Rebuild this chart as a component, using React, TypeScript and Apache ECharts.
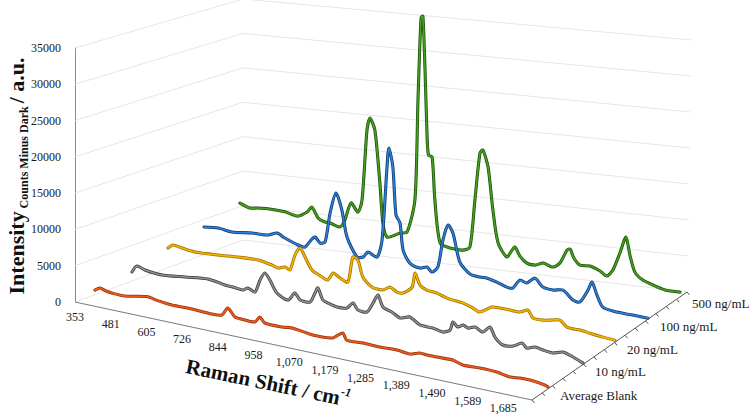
import React, { useEffect, useRef } from "react";
import * as echarts from "echarts";

// ---------- data ----------
const RAMAN_TICKS = [353, 481, 605, 726, 844, 958, 1070, 1179, 1285, 1389, 1490, 1589, 1685];
const RAMAN_MAX = 1762;
const INTENSITY_TICKS = [0, 5000, 10000, 15000, 20000, 25000, 30000, 35000];
const SERIES_NAMES = ["Average Blank", "10 ng/mL", "20 ng/mL", "100 ng/mL", "500 ng/mL"];

const averageBlank = [[353,630],[371,1050],[393,810],[414,700],[461,660],[539,1230],[574,980],[626,770],[694,800],[762,680],[795,830],[815,1970],[839,920],[871,800],[903,810],[919,1640],[935,960],[990,900],[1022,1050],[1087,680],[1148,840],[1179,1820],[1191,960],[1240,1020],[1290,950],[1341,1020],[1378,840],[1407,1270],[1428,1190],[1456,1200],[1501,1240],[1529,840],[1577,920],[1623,850],[1659,540],[1686,690],[1713,690],[1753,440],[1762,250]];

const ng10 = [[353,1250],[371,2200],[400,1860],[462,1590],[544,1910],[624,2230],[682,1830],[710,1760],[744,1590],[760,2000],[784,1620],[801,3420],[817,4520],[834,3670],[857,2050],[893,1360],[915,2510],[932,1680],[964,1650],[980,3020],[989,3800],[1005,2260],[1021,1970],[1050,1650],[1081,1770],[1100,2620],[1115,1770],[1143,1730],[1162,3130],[1177,4360],[1192,2830],[1219,2370],[1243,1750],[1273,2130],[1303,1290],[1341,1200],[1371,900],[1392,1360],[1400,2550],[1414,1980],[1429,2380],[1443,2090],[1463,2410],[1486,1930],[1506,2800],[1520,1540],[1542,640],[1571,760],[1596,1400],[1609,830],[1631,1180],[1653,970],[1680,820],[1707,1200],[1735,780],[1762,190]];

const ng20 = [[353,2740],[371,3270],[404,3060],[452,2810],[535,2920],[606,3100],[675,3160],[723,2780],[744,2500],[767,2810],[784,2500],[801,4700],[818,5800],[835,4660],[858,3020],[891,2270],[910,1990],[927,3090],[950,2550],[975,2180],[991,5770],[1007,5470],[1023,3230],[1052,2040],[1087,1880],[1109,2450],[1131,1920],[1150,1920],[1178,2960],[1187,4980],[1202,3420],[1223,2890],[1254,2710],[1284,2240],[1302,2100],[1332,1920],[1361,1460],[1382,1060],[1417,2030],[1440,2090],[1469,2030],[1498,1990],[1521,2450],[1535,1460],[1563,1400],[1591,1640],[1611,1810],[1630,990],[1666,880],[1693,680],[1729,430],[1762,290]];

const ng100 = [[353,3830],[405,3970],[456,3710],[529,3970],[586,4010],[618,4480],[645,3940],[691,3230],[715,3090],[739,4350],[750,4700],[767,3960],[784,4200],[801,8360],[821,11270],[841,9020],[858,5340],[891,2760],[911,2880],[927,3680],[957,3160],[973,5640],[989,15960],[995,18660],[1008,16070],[1018,9430],[1031,8390],[1041,4670],[1063,2990],[1095,2500],[1117,2780],[1132,2180],[1151,3010],[1167,6880],[1183,9090],[1198,8070],[1219,4150],[1250,2690],[1280,2460],[1302,2460],[1331,2110],[1361,1610],[1379,1590],[1400,2850],[1420,2590],[1444,3440],[1467,2350],[1496,2140],[1525,2340],[1553,1150],[1573,1010],[1596,2850],[1607,4040],[1621,2340],[1637,770],[1676,360],[1720,270],[1762,150]];

const ng500 = [[353,5350],[390,4830],[420,4980],[457,5060],[519,4920],[566,4550],[599,5280],[616,6070],[638,4640],[662,4200],[680,4150],[715,3770],[732,4830],[753,7340],[777,6180],[791,7940],[808,17880],[818,19620],[835,18020],[852,10650],[862,5090],[876,3190],[919,3990],[942,4240],[968,8900],[978,22990],[988,34570],[994,34900],[1001,27340],[1007,18950],[1012,15460],[1024,15240],[1033,9250],[1050,3290],[1082,2770],[1123,2710],[1145,3260],[1161,9970],[1177,16650],[1186,17130],[1202,14830],[1217,8870],[1233,4330],[1260,2520],[1276,3580],[1285,4060],[1300,2880],[1321,2020],[1346,1880],[1370,2320],[1400,1930],[1420,2610],[1441,4570],[1450,4760],[1461,3570],[1479,2680],[1508,2730],[1537,2210],[1557,1630],[1574,2570],[1594,5090],[1611,7450],[1622,4990],[1636,2680],[1658,1700],[1686,1180],[1720,690],[1762,670]];

const SPECTRA = [averageBlank, ng10, ng20, ng100, ng500];

// ---------- styling / layout ----------
const SERIES_COLORS = ["#ea5a1c", "#8f8f8f", "#f5b400", "#2f7fd3", "#45a020"];
const SERIES_EDGES = ["#9a3208", "#3a3a3a", "#9c6f00", "#0d3b75", "#1c5208"];
const SERIF = "Liberation Serif";

// perspective floor (front-left, front-right, back-left, back-right)
const FL = [75, 302];
const FR = [532, 400];
const BL = [243, 240];
const BR = [687, 292];
const WALL_H = { fl: 254, bl: 241, br: 252 };
// depth slot of every series on the left and right floor edges
const SLOT_LEFT = [0.119, 0.339, 0.554, 0.768, 0.982];
const SLOT_RIGHT = [0.103, 0.329, 0.535, 0.748, 0.955];

const lerp = (a: number[], b: number[], t: number) => [a[0] + (b[0] - a[0]) * t, a[1] + (b[1] - a[1]) * t];

// non-uniform Raman axis: categories equally spaced between the tick labels
function shiftToPos(w: number) {
  const t = RAMAN_TICKS;
  for (let i = 0; i < t.length - 1; i++) {
    if (w <= t[i + 1]) return i + (w - t[i]) / (t[i + 1] - t[i]);
  }
  const n = t.length - 1;
  return n + (w - t[n]) / (t[n] - t[n - 1]);
}
const POS_MAX = shiftToPos(RAMAN_MAX);

const fmt = (v: number) => v.toLocaleString("en-US");

function normalise(params: any, api: any, w: number, z: number) {
  const cs = params.coordSys;
  const c = api.coord([shiftToPos(w), z]);
  return [(c[0] - cs.x) / cs.width, (cs.y + cs.height - c[1]) / cs.height];
}

export default function App() {
  const ref = useRef<HTMLDivElement>(null);

  useEffect(() => {
    if (!ref.current) return;
    const chart = echarts.init(ref.current, undefined, { renderer: "svg" });

    const frameItem = (params: any, api: any) => {
      const children: any[] = [];
      INTENSITY_TICKS.forEach((lv) => {
        const [, h] = normalise(params, api, RAMAN_TICKS[0], lv);
        const a = [FL[0], FL[1] - WALL_H.fl * h];
        const b = [BL[0], BL[1] - WALL_H.bl * h];
        const e = [BR[0] + 3 * h + 1, BR[1] - WALL_H.br * h];
        children.push({ type: "line", shape: { x1: a[0], y1: a[1], x2: b[0], y2: b[1] }, style: { stroke: "#e6e6e6", lineWidth: 1 } });
        children.push({ type: "line", shape: { x1: b[0], y1: b[1], x2: e[0], y2: e[1] }, style: { stroke: "#e6e6e6", lineWidth: 1 } });
      });
      return { type: "group", children };
    };

    const spectrumItem = (d: number) => (params: any, api: any) => {
      const S = lerp(FL, BL, SLOT_LEFT[d]);
      const E = lerp(FR, BR, SLOT_RIGHT[d]);
      const H = WALL_H.fl * (1 - 0.005 * d);
      const pts = SPECTRA[d].map(([w, z]) => {
        const [fx, fz] = normalise(params, api, w, z);
        return [S[0] + (E[0] - S[0]) * fx, S[1] + (E[1] - S[1]) * fx - H * fz];
      });
      return {
        type: "group",
        children: [
          { type: "polyline", shape: { points: pts, smooth: 0.25 }, style: { stroke: SERIES_EDGES[d], lineWidth: 3.1, fill: "none", lineJoin: "round", lineCap: "round" } },
          { type: "polyline", shape: { points: pts, smooth: 0.25 }, style: { stroke: SERIES_COLORS[d], lineWidth: 1.6, fill: "none", lineJoin: "round", lineCap: "round" } },
        ],
      };
    };

    const axesItem = (params: any, api: any) => {
      const children: any[] = [];
      children.push({ type: "line", shape: { x1: FL[0], y1: FL[1], x2: FR[0], y2: FR[1] }, style: { stroke: "#7a7a7a", lineWidth: 1 } });
      children.push({ type: "line", shape: { x1: FR[0], y1: FR[1], x2: BR[0], y2: BR[1] }, style: { stroke: "#555555", lineWidth: 1 } });
      const nTicks = 15;
      for (let i = 0; i <= nTicks; i++) {
        const p = lerp(FR, BR, i / nTicks);
        children.push({ type: "line", shape: { x1: p[0], y1: p[1], x2: p[0] + 2.5, y2: p[1] + 3 }, style: { stroke: "#555555", lineWidth: 1 } });
      }
      RAMAN_TICKS.forEach((w) => {
        const [fx] = normalise(params, api, w, 0);
        const p = lerp(FL, FR, fx);
        children.push({
          type: "text",
          x: p[0],
          y: p[1] + 14.5,
          style: { text: fmt(w), fill: "#1a1a1a", fontSize: 12, fontFamily: SERIF, align: "center", verticalAlign: "middle", textAlign: "center", textVerticalAlign: "middle" },
        });
      });
      SERIES_NAMES.forEach((name, d) => {
        const p = lerp(FR, BR, SLOT_RIGHT[d]);
        children.push({
          type: "text",
          x: p[0] + 12,
          y: p[1] + 7,
          style: { text: name, fill: "#1a1a1a", fontSize: 13, fontFamily: SERIF, align: "left", verticalAlign: "middle", textAlign: "left", textVerticalAlign: "middle" },
        });
      });
      return { type: "group", children };
    };

    const series: any[] = [
      { type: "custom", name: "frame", data: [[0, 0]], renderItem: frameItem, clip: false, silent: true, z: 1 },
    ];
    for (let d = SPECTRA.length - 1; d >= 0; d--) {
      series.push({ type: "custom", name: SERIES_NAMES[d], data: [[0, 0]], renderItem: spectrumItem(d), clip: false, silent: true, z: 2 });
    }
    series.push({ type: "custom", name: "axes", data: [[0, 0]], renderItem: axesItem, clip: false, silent: true, z: 3 });

    chart.setOption({
      animation: false,
      backgroundColor: "#ffffff",
      grid: { left: FL[0], top: FL[1] - WALL_H.fl, width: FR[0] - FL[0], height: WALL_H.fl, containLabel: false },
      xAxis: { type: "value", min: 0, max: POS_MAX, show: false },
      yAxis: {
        type: "value",
        min: 0,
        max: 35000,
        interval: 5000,
        axisLine: { show: true, lineStyle: { color: "#8a8a8a", width: 1 } },
        axisTick: { show: false },
        splitLine: { show: false },
        axisLabel: { color: "#1a1a1a", fontFamily: SERIF, fontSize: 12, margin: 14, formatter: (v: number) => String(v) },
      },
      graphic: [
        {
          type: "text",
          x: 16,
          y: 176,
          rotation: Math.PI / 2,
          style: {
            text: "{a|Intensity}{b| Counts Minus Dark }{a|/ a.u.}",
            align: "center",
            verticalAlign: "middle",
            textAlign: "center",
            textVerticalAlign: "middle",
            fill: "#111",
            rich: {
              a: { fontSize: 22, fontWeight: "bold", fontFamily: SERIF, lineHeight: 28, verticalAlign: "middle", fill: "#111" },
              b: { fontSize: 12, fontWeight: "bold", fontFamily: SERIF, lineHeight: 28, verticalAlign: "bottom", fill: "#111" },
            },
          },
        },
        {
          type: "text",
          x: 268,
          y: 383,
          rotation: -0.205,
          style: {
            text: "{a|Raman Shift / cm}{b|-1}",
            align: "center",
            verticalAlign: "middle",
            textAlign: "center",
            textVerticalAlign: "middle",
            fill: "#111",
            rich: {
              a: { fontSize: 21, fontWeight: "bold", fontFamily: SERIF, lineHeight: 26, verticalAlign: "middle", fill: "#111" },
              b: { fontSize: 12, fontWeight: "bold", fontStyle: "italic", fontFamily: SERIF, lineHeight: 26, verticalAlign: "top", fill: "#111" },
            },
          },
        },
      ],
      series,
    });

    return () => chart.dispose();
  }, []);

  return <div ref={ref} style={{ position: "fixed", left: 0, top: 0, width: 754, height: 419 }} />;
}
